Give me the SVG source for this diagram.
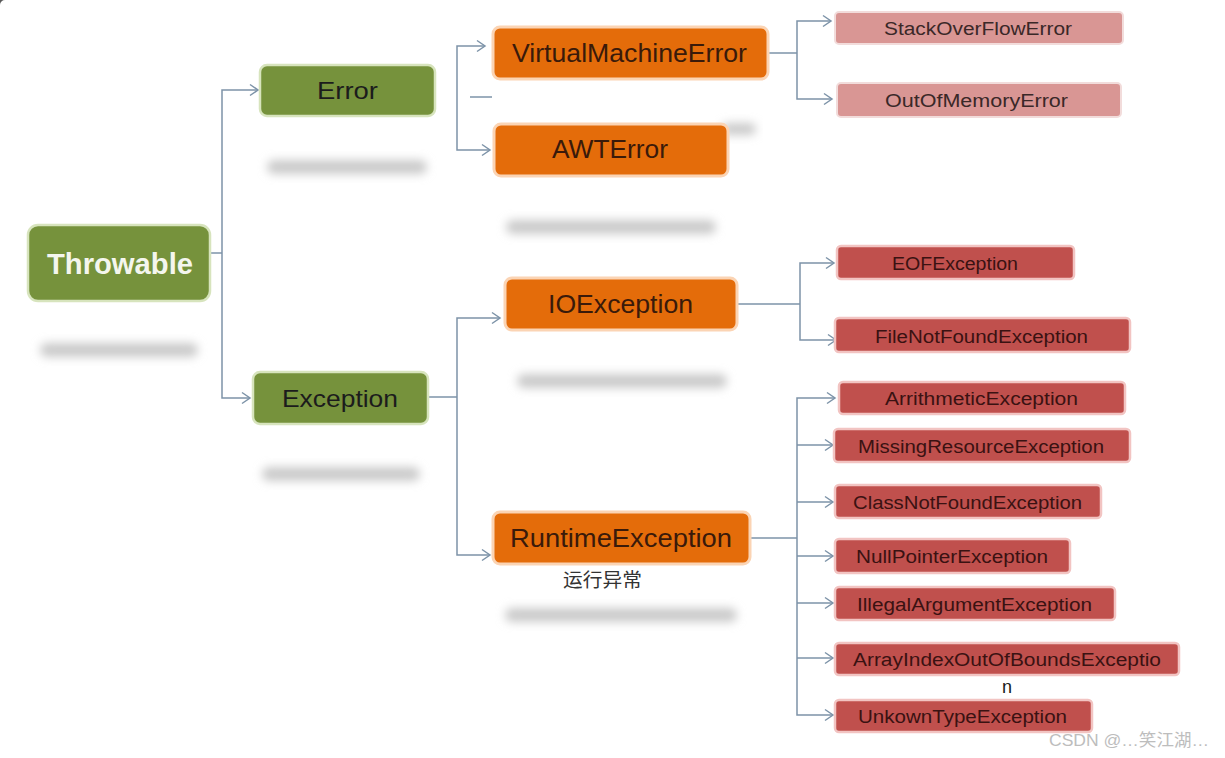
<svg xmlns="http://www.w3.org/2000/svg" width="1225" height="758" viewBox="0 0 1225 758">
<style>
.bg{fill:#ffffff}
.g{fill:#76923c;stroke:#d7e4bd;stroke-width:2.5}
.o{fill:#e46c0a;stroke:#fbd4b4;stroke-width:3}
.p{fill:#d99694;stroke:#f2dcdb;stroke-width:2}
.r{fill:#c0504d;stroke:#f2c4c2;stroke-width:2.5}
.t{font-family:"Liberation Sans","Noto Sans",Arial,sans-serif}
.tg{fill:#1c1c1c;font-size:24px}
.tw{fill:#f4f6ee;font-size:29px;font-weight:bold}
.to{fill:#3a1a0a;font-size:25px}
.tp{fill:#3a2828;font-size:18px}
.tr{fill:#3a1212;font-size:18px}
.c{fill:none;stroke:#7d93a8;stroke-width:1.5}
.sh{fill:#cacaca;filter:url(#blur)}
</style>
<defs>
<marker id="ar" markerUnits="userSpaceOnUse" markerWidth="12" markerHeight="14" viewBox="0 0 12 14" refX="10" refY="7" orient="auto">
<path d="M2,1.5 L10,7 L2,12.5" fill="none" stroke="#7d93a8" stroke-width="1.5"/>
</marker>
<filter id="blur" x="-20%" y="-200%" width="140%" height="500%">
<feGaussianBlur stdDeviation="5"/>
</filter>
</defs>
<rect class="bg" x="0" y="0" width="1225" height="758"/>
<path d="M0,0 H5 A5,5 0 0 0 0,5 Z" fill="#5a5a5a"/>
<g id="shadows">
<rect class="sh" x="40" y="343" width="158" height="14" rx="7"/>
<rect class="sh" x="267" y="160" width="160" height="14" rx="7"/>
<rect class="sh" x="262" y="467" width="158" height="14" rx="7"/>
<rect class="sh" x="506" y="220" width="210" height="14" rx="7"/>
<rect class="sh" x="722" y="123" width="34" height="12" rx="6"/>
<rect class="sh" x="517" y="374" width="210" height="14" rx="7"/>
<rect class="sh" x="505" y="608" width="232" height="14" rx="7"/>
</g>
<g id="connectors">
<path class="c" d="M210,253 H222"/>
<path class="c" d="M222,253 V90 H258" marker-end="url(#ar)"/>
<path class="c" d="M222,253 V398 H250" marker-end="url(#ar)"/>
<path class="c" d="M470,97 H492"/>
<path class="c" d="M457,97 V46 H485" marker-end="url(#ar)"/>
<path class="c" d="M457,97 V150 H490" marker-end="url(#ar)"/>
<path class="c" d="M768,53 H797"/>
<path class="c" d="M797,53 V21 H831" marker-end="url(#ar)"/>
<path class="c" d="M797,53 V99 H832" marker-end="url(#ar)"/>
<path class="c" d="M428,397 H457"/>
<path class="c" d="M457,397 V318 H500" marker-end="url(#ar)"/>
<path class="c" d="M457,397 V555 H490" marker-end="url(#ar)"/>
<path class="c" d="M737,304 H800"/>
<path class="c" d="M800,304 V263 H834" marker-end="url(#ar)"/>
<path class="c" d="M800,304 V340 H836" marker-end="url(#ar)"/>
<path class="c" d="M750,538 H797"/>
<path class="c" d="M797,538 V398 H835" marker-end="url(#ar)"/>
<path class="c" d="M797,538 V715 H833" marker-end="url(#ar)"/>
<path class="c" d="M797,445 H833" marker-end="url(#ar)"/>
<path class="c" d="M797,502 H833" marker-end="url(#ar)"/>
<path class="c" d="M797,556 H833" marker-end="url(#ar)"/>
<path class="c" d="M797,603 H833" marker-end="url(#ar)"/>
<path class="c" d="M797,658 H833" marker-end="url(#ar)"/>
</g>
<g id="throwable"><rect class="g" x="28" y="225" width="182" height="76" rx="10"/><text class="t tw" x="47" y="274" textLength="146" lengthAdjust="spacingAndGlyphs">Throwable</text></g>
<g id="error"><rect class="g" x="260" y="65" width="175" height="51" rx="7"/><text class="t tg" x="317" y="99" textLength="61" lengthAdjust="spacingAndGlyphs">Error</text></g>
<g id="exception"><rect class="g" x="253" y="372" width="175" height="52" rx="7"/><text class="t tg" x="282" y="407" textLength="116" lengthAdjust="spacingAndGlyphs">Exception</text></g>
<g id="virtualmachineerror"><rect class="o" x="493" y="27" width="275" height="52" rx="7"/><text class="t to" x="512" y="62" textLength="235" lengthAdjust="spacingAndGlyphs">VirtualMachineError</text></g>
<g id="awterror"><rect class="o" x="494" y="124" width="234" height="52" rx="7"/><text class="t to" x="552" y="158" textLength="116" lengthAdjust="spacingAndGlyphs">AWTError</text></g>
<g id="ioexception"><rect class="o" x="505" y="278" width="232" height="52" rx="7"/><text class="t to" x="548" y="313" textLength="145" lengthAdjust="spacingAndGlyphs">IOException</text></g>
<g id="runtimeexception"><rect class="o" x="493" y="512" width="257" height="52" rx="7"/><text class="t to" x="510" y="547" textLength="222" lengthAdjust="spacingAndGlyphs">RuntimeException</text><text x="563" y="587" font-family="'Noto Sans CJK SC',sans-serif" font-size="19" fill="#333333" textLength="79" lengthAdjust="spacingAndGlyphs">运行异常</text></g>
<g id="stackoverflowerror"><rect class="p" x="835" y="12" width="288" height="32" rx="4"/><text class="t tp" x="884" y="35" textLength="188" lengthAdjust="spacingAndGlyphs">StackOverFlowError</text></g>
<g id="outofmemoryerror"><rect class="p" x="837" y="83" width="284" height="34" rx="4"/><text class="t tp" x="885" y="107" textLength="183" lengthAdjust="spacingAndGlyphs">OutOfMemoryError</text></g>
<g id="eofexception"><rect class="r" x="837" y="246" width="237" height="33" rx="4"/><text class="t tr" x="892" y="270" textLength="126" lengthAdjust="spacingAndGlyphs">EOFException</text></g>
<g id="filenotfoundexception"><rect class="r" x="835" y="318" width="295" height="34" rx="4"/><text class="t tr" x="875" y="343" textLength="213" lengthAdjust="spacingAndGlyphs">FileNotFoundException</text></g>
<g id="arithmeticexception"><rect class="r" x="839" y="382" width="286" height="32" rx="4"/><text class="t tr" x="885" y="405" textLength="193" lengthAdjust="spacingAndGlyphs">ArrithmeticException</text></g>
<g id="missingresourceexception"><rect class="r" x="834" y="429" width="296" height="33" rx="4"/><text class="t tr" x="858" y="453" textLength="246" lengthAdjust="spacingAndGlyphs">MissingResourceException</text></g>
<g id="classnotfoundexception"><rect class="r" x="835" y="485" width="266" height="33" rx="4"/><text class="t tr" x="853" y="509" textLength="229" lengthAdjust="spacingAndGlyphs">ClassNotFoundException</text></g>
<g id="nullpointerexception"><rect class="r" x="835" y="539" width="235" height="34" rx="4"/><text class="t tr" x="856" y="563" textLength="192" lengthAdjust="spacingAndGlyphs">NullPointerException</text></g>
<g id="illegalargumentexception"><rect class="r" x="835" y="587" width="280" height="33" rx="4"/><text class="t tr" x="857" y="611" textLength="235" lengthAdjust="spacingAndGlyphs">IllegalArgumentException</text></g>
<g id="arrayindexoutofboundsexception"><rect class="r" x="835" y="643" width="344" height="32" rx="4"/><text class="t tr" x="853" y="666" textLength="308" lengthAdjust="spacingAndGlyphs">ArrayIndexOutOfBoundsExceptio</text><text class="t" x="1002" y="693" font-size="18" fill="#1a1a1a">n</text></g>
<g id="unkowntypeexception"><rect class="r" x="835" y="700" width="257" height="32" rx="4"/><text class="t tr" x="858" y="723" textLength="209" lengthAdjust="spacingAndGlyphs">UnkownTypeException</text></g>
<text x="1049" y="746" font-family="'Liberation Sans','Noto Sans CJK SC',sans-serif" font-size="17" fill="#bdbdbd" textLength="160" lengthAdjust="spacingAndGlyphs">CSDN @…笑江湖…</text>
</svg>
